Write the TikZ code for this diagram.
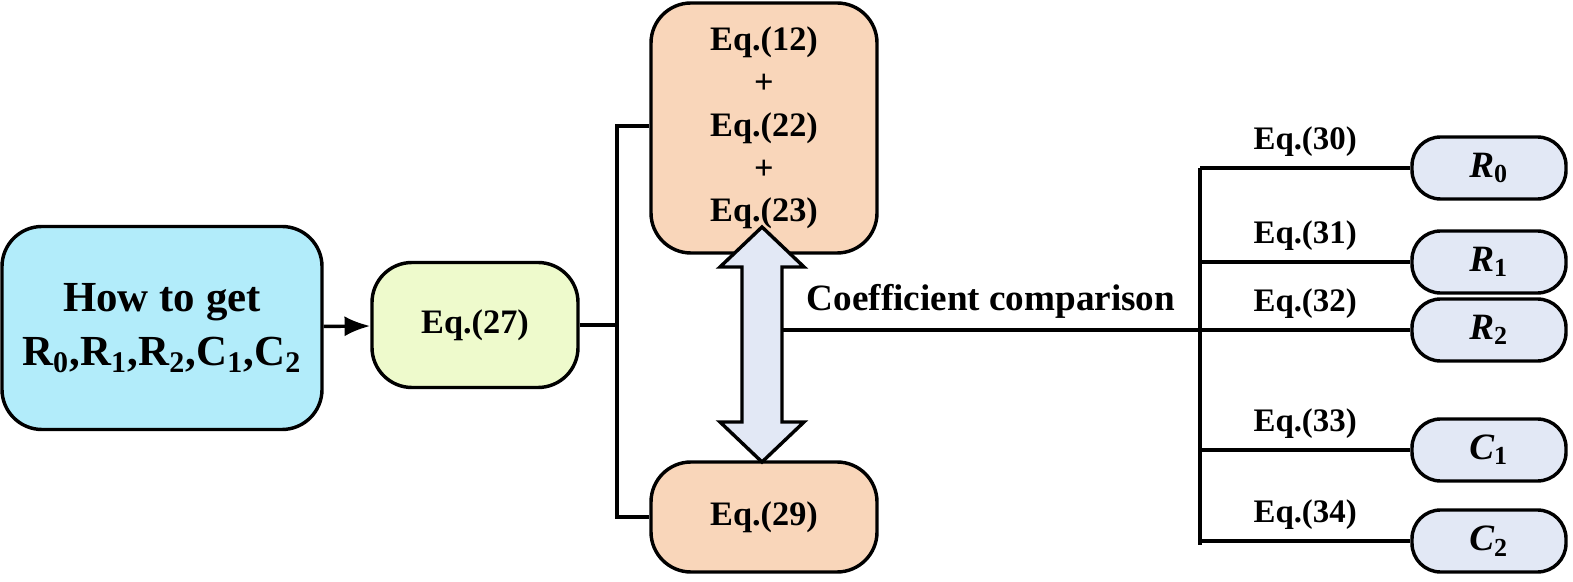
\documentclass[tikz,border=0pt]{standalone}
\usepackage{fontspec}
\setmainfont{Liberation Serif}
\usetikzlibrary{arrows.meta}
\definecolor{StartClr}{RGB}{178,236,250}
\definecolor{EqClr}{RGB}{238,250,204}
\definecolor{PeachClr}{RGB}{249,214,186}
\definecolor{ResClr}{RGB}{226,232,245}
\tikzset{
  box/.style={draw,line width=1.2pt,rounded corners=14pt,align=center,font=\bfseries\fontsize{12}{15}\selectfont},
  res/.style={draw,line width=1.2pt,rounded corners=10pt,fill=ResClr,minimum width=154*0.35pt,minimum height=62*0.35pt,font=\bfseries\itshape\fontsize{13}{15}\selectfont},
  wire/.style={line width=1.2pt},
  lab/.style={font=\bfseries\fontsize{11.5}{14}\selectfont,above}
}
\begin{document}
\begin{tikzpicture}[x=0.35pt,y=-0.35pt]
\useasboundingbox (0,0) rectangle (1573,582);

\node[box,fill=StartClr,minimum width=320*0.35pt,minimum height=203*0.35pt,font=\bfseries\fontsize{15}{19}\selectfont] (start) at (162,328) {How to get\\R\textsubscript{0},R\textsubscript{1},R\textsubscript{2},C\textsubscript{1},C\textsubscript{2}};
\node[box,fill=EqClr,minimum width=206*0.35pt,minimum height=125*0.35pt] (eq27) at (475,325) {Eq.(27)};
\node[box,fill=PeachClr,minimum width=226*0.35pt,minimum height=250*0.35pt] (eqtop) at (764,128) {Eq.(12)\\+\\Eq.(22)\\+\\Eq.(23)};
\node[box,fill=PeachClr,minimum width=226*0.35pt,minimum height=110*0.35pt] (eq29) at (764,517) {Eq.(29)};

\node[res] (r0) at (1489,168) {R\textsubscript{\upshape 0}};
\node[res] (r1) at (1489,262) {R\textsubscript{\upshape 1}};
\node[res] (r2) at (1489,330) {R\textsubscript{\upshape 2}};
\node[res] (c1) at (1489,450) {C\textsubscript{\upshape 1}};
\node[res] (c2) at (1489,541) {C\textsubscript{\upshape 2}};

% connectors
\draw[wire,-{Latex[length=9pt,width=7pt]}] (start) -- (eq27);
\coordinate (split) at (617,325);
\draw[wire] (eq27.east) -- (split);
\draw[wire] (eqtop.west |- 0,126) -| (split) |- (eq29.west);

% double arrow between the two equation boxes
\draw[line width=1.2pt,fill=ResClr] (762,227) -- (804,267) -- (782,267) -- (782,422) -- (804,422)
  -- (762,462) -- (720,422) -- (742,422) -- (742,267) -- (720,267) -- cycle;

\coordinate (cmpend) at (782,330);
\coordinate (hub) at (1200,330);
\draw[wire] (cmpend) -- (hub)
  node[pos=0.5,lab,font=\bfseries\fontsize{13}{15}\selectfont] {Coefficient comparison};
\draw[wire] (1200,168) -- (1200,545);
\foreach \n/\t in {r0/30,r1/31,r2/32,c1/33,c2/34}{
  \draw[wire] (1200,0 |- \n) -- (\n.west) node[pos=0.5,lab] {Eq.(\t)};
}
\end{tikzpicture}
\end{document}
